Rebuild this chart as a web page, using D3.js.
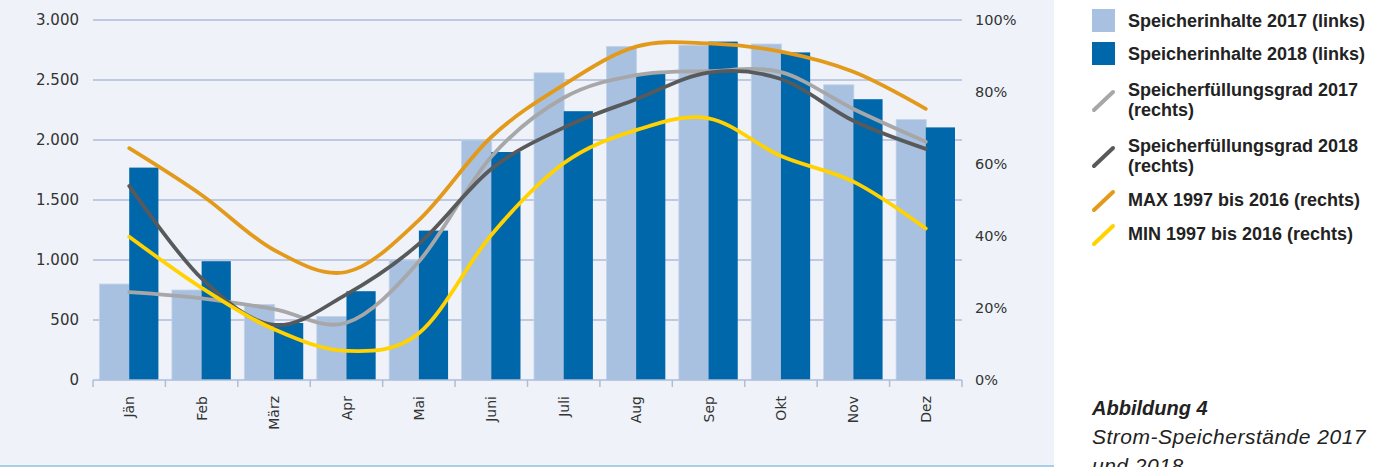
<!DOCTYPE html>
<html>
<head>
<meta charset="utf-8">
<script src="https://cdn.jsdelivr.net/npm/d3@7"></script>
<style>
  body { margin: 0; background: #fff; }
  svg { display: block; }
</style>
</head>
<body>
<svg id="chart" width="1381" height="467"></svg>
<script>
// Monate
const months = ["Jän", "Feb", "März", "Apr", "Mai", "Juni", "Juli", "Aug", "Sep", "Okt", "Nov", "Dez"];

// Speicherinhalte (GWh, linke Achse)
const inhalt2017 = [800, 750, 630, 530, 1000, 2000, 2560, 2780, 2790, 2800, 2460, 2170];
const inhalt2018 = [1770, 990, 475, 740, 1245, 1900, 2240, 2555, 2820, 2730, 2340, 2105];

// Füllungsgrad (%, rechte Achse)
const grad2017 = [24.4, 22.7, 19.7, 15.9, 32.9, 62, 78.4, 84.7, 85.8, 85.5, 75.3, 66.2];
const grad2018 = [53.9, 28.2, 15.3, 23.8, 37.8, 58.6, 70.1, 78, 85.4, 83.6, 72, 64.2];
const max9716 = [64.4, 51.4, 36.1, 30, 44.4, 67.5, 82, 92.6, 93.5, 91.2, 85.6, 75.3];
const min9716 = [39.8, 25.6, 14.1, 8.1, 13, 40.3, 60.2, 69.4, 72.7, 62.2, 55.1, 42.1];

const leftTicks = [0, 500, 1000, 1500, 2000, 2500, 3000];
const rightTicks = [0, 20, 40, 60, 80, 100];

const svg = d3.select("#chart");

const plot = { left: 93, right: 962, top: 20, bottom: 380 };
const axisFont = "'DejaVu Sans', sans-serif";
const gridColor = "#aebdda";

// Hintergrund
svg.append("rect")
    .attr("x", 0).attr("y", 0)
    .attr("width", 1054).attr("height", 466)
    .attr("fill", "#eff3f9");
svg.append("line")
    .attr("x1", 0).attr("x2", 1054)
    .attr("y1", 466).attr("y2", 466)
    .attr("stroke", "#a9cfe6")
    .attr("stroke-width", 2);

// Skalen
const x = d3.scaleBand()
    .domain(months)
    .range([plot.left, plot.right])
    .padding(0);

const xSub = d3.scaleBand()
    .domain(["2017", "2018"])
    .range([0, x.bandwidth()])
    .paddingInner(0)
    .paddingOuter(0.24);

const yLeft = d3.scaleLinear().domain([0, 3000]).range([plot.bottom, plot.top]);
const yRight = d3.scaleLinear().domain([0, 100]).range([plot.bottom, plot.top]);

const fmt = d3.formatLocale({ decimal: ",", thousands: ".", grouping: [3], currency: ["", "€"] }).format(",");

// Gitternetz
svg.append("g")
    .selectAll("line")
    .data(leftTicks.filter(d => d > 0))
    .join("line")
    .attr("x1", plot.left).attr("x2", plot.right)
    .attr("y1", d => yLeft(d)).attr("y2", d => yLeft(d))
    .attr("stroke", gridColor)
    .attr("stroke-width", 1.5);

// linke Achse
svg.append("g")
    .selectAll("text")
    .data(leftTicks)
    .join("text")
    .attr("x", 79)
    .attr("y", d => yLeft(d))
    .attr("dy", "0.36em")
    .attr("text-anchor", "end")
    .attr("font-family", axisFont)
    .attr("font-size", 15)
    .attr("fill", "#333")
    .text(d => fmt(d));

// rechte Achse
svg.append("g")
    .selectAll("text")
    .data(rightTicks)
    .join("text")
    .attr("x", 975)
    .attr("y", d => yRight(d))
    .attr("dy", "0.36em")
    .attr("text-anchor", "start")
    .attr("font-family", axisFont)
    .attr("font-size", 14.5)
    .attr("fill", "#333")
    .text(d => d + "%");

// Balken
const barGroups = svg.append("g")
    .selectAll("g")
    .data(months.map((m, i) => ({ m, v17: inhalt2017[i], v18: inhalt2018[i] })))
    .join("g")
    .attr("transform", d => `translate(${x(d.m)},0)`);

barGroups.append("rect")
    .attr("x", xSub("2017") - 0.5)
    .attr("width", xSub.bandwidth() + 1)
    .attr("y", d => yLeft(d.v17))
    .attr("height", d => yLeft(0) - yLeft(d.v17))
    .attr("fill", "#a8c1e0")
    .attr("stroke", "#c3d4ea")
    .attr("stroke-width", 0.8);

barGroups.append("rect")
    .attr("x", xSub("2018"))
    .attr("width", xSub.bandwidth())
    .attr("y", d => yLeft(d.v18))
    .attr("height", d => yLeft(0) - yLeft(d.v18))
    .attr("fill", "#0068aa");

// x-Achse
svg.append("line")
    .attr("x1", plot.left).attr("x2", plot.right)
    .attr("y1", plot.bottom).attr("y2", plot.bottom)
    .attr("stroke", gridColor)
    .attr("stroke-width", 1.5);

const bounds = months.map(m => x(m)).concat([plot.right]);
svg.append("g")
    .selectAll("line")
    .data(bounds)
    .join("line")
    .attr("x1", d => d).attr("x2", d => d)
    .attr("y1", plot.bottom).attr("y2", plot.bottom + 7)
    .attr("stroke", gridColor)
    .attr("stroke-width", 1.5);

svg.append("g")
    .selectAll("text")
    .data(months)
    .join("text")
    .attr("transform", d => `translate(${x(d) + x.bandwidth() / 2},396) rotate(-90)`)
    .attr("dy", "0.36em")
    .attr("text-anchor", "end")
    .attr("font-family", axisFont)
    .attr("font-size", 14)
    .attr("fill", "#333")
    .text(d => d);

// Linien
const lineSeries = [
    { values: grad2017, color: "#a7a7a9" },
    { values: grad2018, color: "#58595b" },
    { values: max9716, color: "#e39a1b" },
    { values: min9716, color: "#ffd200" }
];

const line = d3.line()
    .x((d, i) => x(months[i]) + x.bandwidth() / 2)
    .y(d => yRight(d))
    .curve(d3.curveCardinal.tension(0));

svg.append("g")
    .selectAll("path")
    .data(lineSeries)
    .join("path")
    .attr("d", d => line(d.values))
    .attr("fill", "none")
    .attr("stroke", d => d.color)
    .attr("stroke-width", 3.8)
    .attr("stroke-linecap", "round");

// Legende
const legendFont = "'Liberation Sans Narrow', 'Liberation Sans', sans-serif";
const legendItems = [
    { type: "rect", color: "#a8c1e0", lines: ["Speicherinhalte 2017 (links)"], y: 27 },
    { type: "rect", color: "#0068aa", lines: ["Speicherinhalte 2018 (links)"], y: 60 },
    { type: "line", color: "#a7a7a9", lines: ["Speicherfüllungsgrad 2017", "(rechts)"], y: 96 },
    { type: "line", color: "#58595b", lines: ["Speicherfüllungsgrad 2018", "(rechts)"], y: 152 },
    { type: "line", color: "#e39a1b", lines: ["MAX 1997 bis 2016 (rechts)"], y: 206 },
    { type: "line", color: "#ffd200", lines: ["MIN 1997 bis 2016 (rechts)"], y: 240 }
];

const legend = svg.append("g");
legendItems.forEach(item => {
    if (item.type === "rect") {
        legend.append("rect")
            .attr("x", 1092).attr("y", item.y - 18)
            .attr("width", 23).attr("height", 23)
            .attr("fill", item.color);
    } else {
        const cy = item.lines.length > 1 ? item.y + 5 : item.y - 5;
        legend.append("line")
            .attr("x1", 1094).attr("y1", cy + 9)
            .attr("x2", 1113).attr("y2", cy - 9)
            .attr("stroke", item.color)
            .attr("stroke-width", 4)
            .attr("stroke-linecap", "round");
    }
    item.lines.forEach((t, k) => {
        legend.append("text")
            .attr("x", 1128)
            .attr("y", item.y + k * 20)
            .attr("font-family", legendFont)
            .attr("font-weight", "bold")
            .attr("font-size", 18)
            .attr("fill", "#222")
            .text(t);
    });
});

// Bildunterschrift
const caption = svg.append("g")
    .attr("font-family", "'Liberation Sans', sans-serif")
    .attr("font-style", "italic")
    .attr("fill", "#222");
caption.append("text").attr("x", 1092).attr("y", 415)
    .attr("font-weight", "bold").attr("font-size", 20).text("Abbildung 4");
caption.append("text").attr("x", 1092).attr("y", 444)
    .attr("font-size", 21).attr("letter-spacing", 0.5).text("Strom-Speicherstände 2017");
caption.append("text").attr("x", 1092).attr("y", 473)
    .attr("font-size", 21).attr("letter-spacing", 0.5).text("und 2018");
</script>
</body>
</html>
